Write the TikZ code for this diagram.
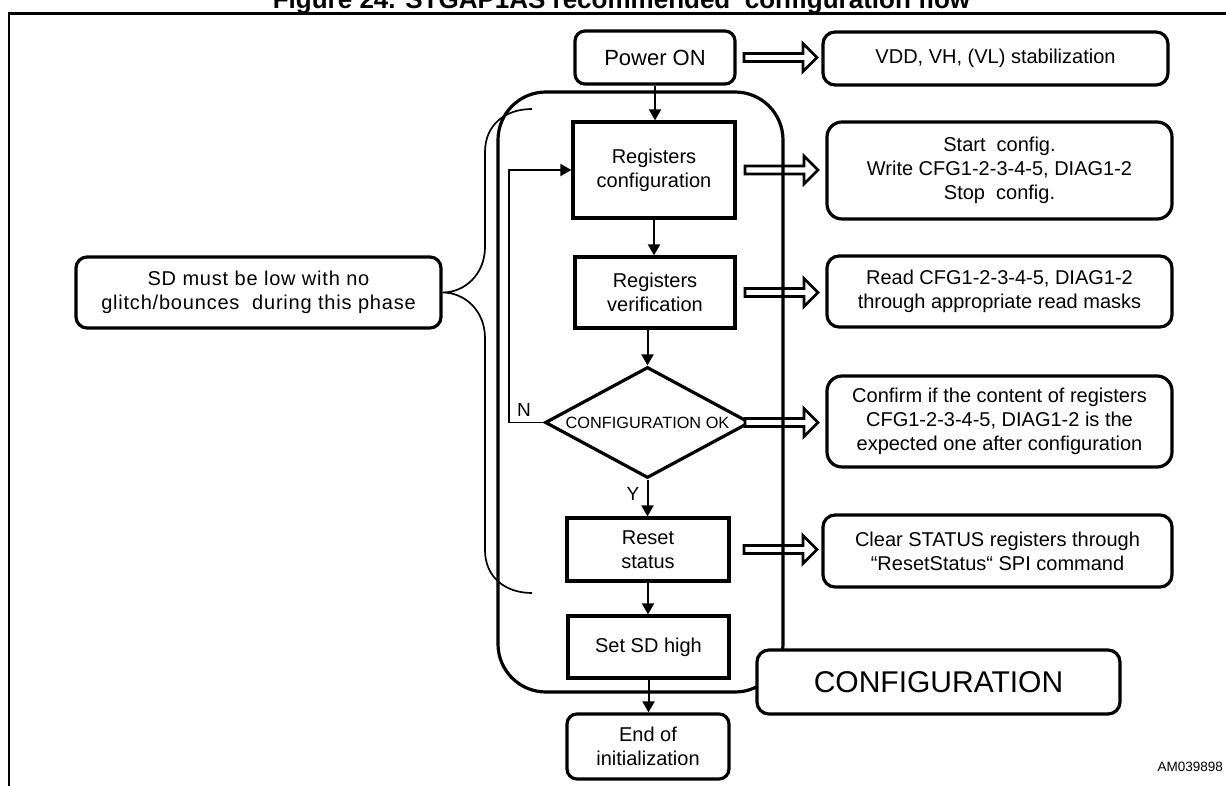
\documentclass[tikz,border=0pt]{standalone}
\usepackage{fontspec}
\setmainfont{Liberation Sans}
\newfontfamily\sdfont[LetterSpace=4]{Liberation Sans}
\usetikzlibrary{arrows.meta,shapes.geometric}
\begin{document}
\begin{tikzpicture}[x=1pt,y=-1pt,
  txt/.style={font=\fontsize{20}{24}\selectfont, align=center},
  box/.style={draw, line width=3.2pt, txt, inner sep=0pt},
  rbox/.style={box, rounded corners=12pt},
  flow/.style={line width=2pt, -{Triangle[length=11pt,width=12pt]}},
  thinflow/.style={line width=1.6pt, -{Triangle[length=11pt,width=12pt]}},
  hollowline/.style={line width=2.7pt, fill=white, line join=miter},
  hollow/.pic={\draw[hollowline] (0,-4) -- (59,-4) -- (59,-14) -- (73,0) -- (59,14) -- (59,4) -- (0,4) -- cycle;},
  lbl/.style={font=\fontsize{19}{21}\selectfont, inner sep=0pt}
]
\useasboundingbox (0,0) rectangle (1226,786);

% title and frame
\node[font=\bfseries\fontsize{26}{30}\selectfont, anchor=base, inner sep=0pt] (title) at (621.5,9) {Figure 24. STGAP1AS recommended\ \ configuration flow};
\draw[line width=2.2pt] (9,786) -- (9,13.5) -- (1226,13.5);

% left column
\node[rbox, rounded corners=10pt, minimum width=160pt, minimum height=53pt, font=\fontsize{22}{26}\selectfont] (pwr) at (655,57.5) {Power ON};
\node[box, minimum width=162pt, minimum height=96pt] (rc) at (654,170) {Registers\\configuration};
\node[box, minimum width=160pt, minimum height=71pt] (rv) at (655,292.5) {Registers\\verification};
\node[draw, line width=3.2pt, diamond, aspect=1.847, minimum width=205pt, minimum height=111pt, inner sep=0pt, font=\fontsize{16.3}{19}\selectfont] (dia) at (647.5,422.5) {CONFIGURATION OK};
\node[box, minimum width=162pt, minimum height=63pt] (rs) at (648,549.5) {Reset\\status};
\node[box, minimum width=161pt, minimum height=62pt] (ssd) at (648.5,647) {Set SD high};
\node[rbox, rounded corners=10pt, minimum width=162pt, minimum height=65pt] (fin) at (648,746.5) {End of\\initialization};

% right column
\node[rbox, minimum width=345pt, minimum height=53pt] (vdd) at (995.5,58.5) {VDD, VH, (VL) stabilization};
\node[rbox, rounded corners=15pt, minimum width=345pt, minimum height=97pt] (sc) at (999.5,170.5) {Start~ config.\\Write CFG1-2-3-4-5, DIAG1-2\\Stop~ config.};
\node[rbox, minimum width=345pt, minimum height=71pt] (rd) at (999.5,291.5) {Read CFG1-2-3-4-5, DIAG1-2\\through appropriate read masks};
\node[rbox, rounded corners=15pt, minimum width=345pt, minimum height=91pt] (cf) at (999.5,421.5) {Confirm if the content of registers\\CFG1-2-3-4-5, DIAG1-2 is the\\expected one after configuration};
\node[rbox, minimum width=349pt, minimum height=72pt] (cl) at (997.5,551) {Clear STATUS registers through\\“ResetStatus“ SPI command};

% left note
\node[rbox, rounded corners=11pt, minimum width=365pt, minimum height=71pt, font=\sdfont\fontsize{20}{24}\selectfont] (sdl) at (258.5,292.5) {SD must be low with no\\glitch/bounces~ during this phase};

% hollow arrows
\pic at (pwr.east -| 744,0) {hollow};
\pic at (rc.east -| 745,0) {hollow};
\pic at (rv.east -| 745,0) {hollow};
\pic at (dia.east -| 745,0) {hollow};
\pic at (rs.east -| 744,0) {hollow};

% configuration frame
\draw[line width=3.2pt, rounded corners=48pt] (498,92) rectangle (783,692);
\node[rbox, fill=white, minimum width=363pt, minimum height=64pt, font=\fontsize{30}{34}\selectfont] (cfg) at (938.5,682) {CONFIGURATION};

% flow arrows
\draw[flow] (pwr.south) -- (pwr.south |- rc.north);
\draw[flow] (rc.south) -- (rc.south |- rv.north);
\draw[flow] (dia.north |- rv.south) -- (dia.north);
\draw[flow] (dia.south) -- (dia.south |- rs.north);
\draw[flow] (rs.south) -- (rs.south |- ssd.north);
\draw[flow] (ssd.south) -- (ssd.south |- fin.north);
\draw[thinflow] (dia.west) -- (509,0 |- dia.west) |- (rc.west);

\node[lbl] (nlab) at (524,410) {N};
\node[lbl] (ylab) at (633,494) {Y};

% bracket
\draw[line width=1.7pt] (532,109) .. controls (505,109) and (485,125) .. (485,152) -- (485,247)
  .. controls (485,274) and (465,292.5) .. (sdl.east)
  .. controls (465,292.5) and (485,311) .. (485,338) -- (485,550)
  .. controls (485,577) and (505,593) .. (532,593);

\node[font=\fontsize{13.5}{16}\selectfont, anchor=east, inner sep=0pt] (am) at (1223,767) {AM039898};
\end{tikzpicture}
\end{document}
